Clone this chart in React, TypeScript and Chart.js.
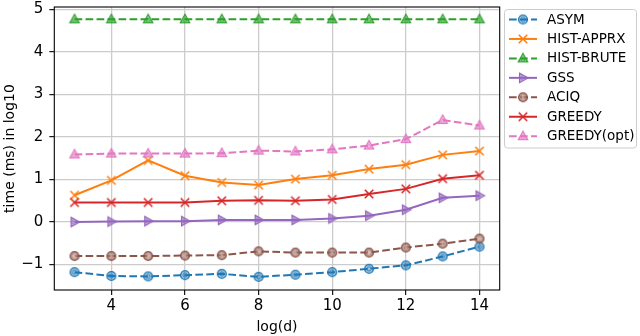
import React, { useEffect, useRef } from 'react';
import { Chart, registerables } from 'chart.js';
Chart.register(...registerables);

const logD = [3, 4, 5, 6, 7, 8, 9, 10, 11, 12, 13, 14];
const asym = [-1.18, -1.27, -1.28, -1.25, -1.22, -1.29, -1.24, -1.18, -1.1, -1.02, -0.81, -0.58];
const histApprx = [0.63, 0.98, 1.45, 1.09, 0.93, 0.87, 1.01, 1.1, 1.245, 1.35, 1.58, 1.67];
const histBrute = [4.77, 4.77, 4.77, 4.77, 4.77, 4.77, 4.77, 4.77, 4.77, 4.77, 4.77, 4.77];
const gss = [0.0, 0.01, 0.02, 0.02, 0.05, 0.05, 0.05, 0.085, 0.15, 0.29, 0.57, 0.62];
const aciq = [-0.8, -0.8, -0.8, -0.79, -0.78, -0.69, -0.72, -0.72, -0.72, -0.6, -0.51, -0.39];
const greedy = [0.46, 0.46, 0.46, 0.46, 0.5, 0.51, 0.5, 0.53, 0.66, 0.78, 1.02, 1.1];
const greedyOpt = [1.59, 1.61, 1.61, 1.61, 1.62, 1.68, 1.66, 1.71, 1.8, 1.95, 2.4, 2.27];

const seriesNames = ['ASYM', 'HIST-APPRX', 'HIST-BRUTE', 'GSS', 'ACIQ', 'GREEDY', 'GREEDY(opt)'];
const seriesValues = [asym, histApprx, histBrute, gss, aciq, greedy, greedyOpt];
const seriesColors = ['#1f77b4', '#ff7f0e', '#2ca02c', '#9467bd', '#8c564b', '#d62728', '#e377c2'];
const seriesMarkers = ['circleRing', 'x', 'triUp', 'triRight', 'circlePlus', 'x', 'triUp'];
const seriesDashed = [true, false, true, false, true, false, true];

const xTicks = [4, 6, 8, 10, 12, 14];
const yTicks = [-1, 0, 1, 2, 3, 4, 5];

const DASH = [7.7, 3.3];
const FONT = 'DejaVu Sans';

function hexA(hex: string, a: number) {
  const n = parseInt(hex.slice(1), 16);
  return `rgba(${(n >> 16) & 255},${(n >> 8) & 255},${n & 255},${a})`;
}

function makeMarker(kind: string, color: string): HTMLCanvasElement {
  const c = document.createElement('canvas');
  c.width = 14;
  c.height = 14;
  const g = c.getContext('2d')!;
  g.translate(7, 7);
  g.strokeStyle = color;
  g.lineJoin = 'miter';
  g.lineWidth = 1.3;
  if (kind === 'x') {
    g.lineWidth = 1.6;
    g.beginPath();
    g.moveTo(-4.2, -4.2);
    g.lineTo(4.2, 4.2);
    g.moveTo(-4.2, 4.2);
    g.lineTo(4.2, -4.2);
    g.stroke();
  } else if (kind === 'circleRing' || kind === 'circlePlus') {
    g.fillStyle = hexA(color, kind === 'circlePlus' ? 0.6 : 0.4);
    g.beginPath();
    g.arc(0, 0, 4.4, 0, Math.PI * 2);
    g.fill();
    g.stroke();
    g.lineWidth = 0.9;
    if (kind === 'circleRing') {
      g.beginPath();
      g.arc(0, 0, 2.1, 0, Math.PI * 2);
      g.stroke();
    } else {
      g.strokeStyle = 'rgba(255,255,255,0.55)';
      g.beginPath();
      g.moveTo(-2.6, 0);
      g.lineTo(2.6, 0);
      g.moveTo(0, -2.6);
      g.lineTo(0, 2.6);
      g.stroke();
    }
  } else {
    if (kind === 'triRight') g.rotate(Math.PI / 2);
    g.fillStyle = hexA(color, 0.35);
    g.beginPath();
    g.moveTo(0, -5);
    g.lineTo(4.6, 3.4);
    g.lineTo(-4.6, 3.4);
    g.closePath();
    g.fill();
    g.stroke();
    g.lineWidth = 0.8;
    g.beginPath();
    g.moveTo(0, -1.6);
    g.lineTo(2.2, 2.0);
    g.lineTo(-2.2, 2.0);
    g.closePath();
    g.stroke();
  }
  return c;
}

const legendPlugin = {
  id: 'mplLegend',
  afterDraw(chart: any) {
    const ctx = chart.ctx as CanvasRenderingContext2D;
    const bx = 504.5, by = 9.5, bw = 132, bh = 138.5, r = 3;
    ctx.save();
    ctx.beginPath();
    ctx.moveTo(bx + r, by);
    ctx.lineTo(bx + bw - r, by);
    ctx.arcTo(bx + bw, by, bx + bw, by + r, r);
    ctx.lineTo(bx + bw, by + bh - r);
    ctx.arcTo(bx + bw, by + bh, bx + bw - r, by + bh, r);
    ctx.lineTo(bx + r, by + bh);
    ctx.arcTo(bx, by + bh, bx, by + bh - r, r);
    ctx.lineTo(bx, by + r);
    ctx.arcTo(bx, by, bx + r, by, r);
    ctx.closePath();
    ctx.fillStyle = 'rgba(255,255,255,0.8)';
    ctx.fill();
    ctx.strokeStyle = '#cccccc';
    ctx.lineWidth = 1;
    ctx.stroke();
    chart.data.datasets.forEach((ds: any, i: number) => {
      const y = 19.5 + i * 19.45;
      ctx.strokeStyle = ds.borderColor;
      ctx.lineWidth = 2;
      ctx.setLineDash(ds.borderDash || []);
      ctx.beginPath();
      ctx.moveTo(509, y);
      ctx.lineTo(537, y);
      ctx.stroke();
      ctx.setLineDash([]);
      const m = ds.pointStyle as HTMLCanvasElement;
      ctx.drawImage(m, 523 - m.width / 2, y - m.height / 2);
      ctx.fillStyle = '#000';
      ctx.font = `13.5px ${FONT}`;
      ctx.textAlign = 'left';
      ctx.textBaseline = 'middle';
      ctx.fillText(ds.label, 547, y + 0.5);
    });
    ctx.restore();
  },
};

const framePlugin = {
  id: 'frame',
  afterDatasetsDraw(chart: any) {
    const { left, top, right, bottom } = chart.chartArea;
    const ctx = chart.ctx as CanvasRenderingContext2D;
    ctx.save();
    ctx.strokeStyle = '#000';
    ctx.lineWidth = 1.1;
    ctx.strokeRect(left, top, right - left, bottom - top);
    ctx.restore();
  },
};

export default function App() {
  const ref = useRef<HTMLCanvasElement>(null);
  useEffect(() => {
    document.body.style.margin = '0';
    const datasets = seriesNames.map((name, i) => ({
      label: name,
      data: logD.map((x, j) => ({ x, y: seriesValues[i][j] })),
      borderColor: seriesColors[i],
      backgroundColor: seriesColors[i],
      borderWidth: 2,
      borderDash: seriesDashed[i] ? DASH : [],
      pointStyle: makeMarker(seriesMarkers[i], seriesColors[i]),
      pointRadius: 5,
      tension: 0,
      fill: false,
      order: seriesNames.length - i,
    }));
    const chart = new Chart(ref.current!, {
      type: 'line',
      data: { datasets },
      plugins: [framePlugin, legendPlugin],
      options: {
        animation: false,
        responsive: false,
        devicePixelRatio: 1,
        layout: { padding: { top: 3, right: 140.3, left: 0, bottom: 0 } },
        plugins: { legend: { display: false }, tooltip: { enabled: false } },
        scales: {
          x: {
            type: 'linear',
            min: 2.45,
            max: 14.55,
            afterBuildTicks: (s: any) => {
              s.ticks = xTicks.map((v) => ({ value: v }));
            },
            afterFit: (s: any) => {
              s.height = 46;
              s.paddingLeft = 0;
              s.paddingRight = 0;
            },
            ticks: {
              font: { family: FONT, size: 15 },
              color: '#000',
              padding: 2,
              maxRotation: 0,
              autoSkip: false,
              callback: (v: any) => String(v),
            },
            grid: { color: '#cccccc', lineWidth: 1.3, tickColor: '#000', tickLength: 5, tickWidth: 1.1 },
            border: { display: false },
            title: { display: true, text: 'log(d)', font: { family: FONT, size: 14 }, color: '#000', padding: { top: 0, bottom: 0 } },
          },
          y: {
            type: 'linear',
            min: -1.6,
            max: 5.06,
            afterBuildTicks: (s: any) => {
              s.ticks = yTicks.map((v) => ({ value: v }));
            },
            afterFit: (s: any) => {
              s.width = 54.3;
              s.paddingTop = 0;
              s.paddingBottom = 0;
            },
            ticks: {
              font: { family: FONT, size: 15 },
              color: '#000',
              padding: 6,
              autoSkip: false,
              callback: (v: any) => (v < 0 ? '\u2212' + Math.abs(v) : String(v)),
            },
            grid: { color: '#cccccc', lineWidth: 1.3, tickColor: '#000', tickLength: 5, tickWidth: 1.1 },
            border: { display: false },
            title: { display: true, text: 'time (ms) in log10', font: { family: FONT, size: 14 }, color: '#000', padding: { top: 1.6, bottom: 0 } },
          },
        },
      } as any,
    });
    return () => chart.destroy();
  }, []);
  return (
    <div style={{ width: 640, height: 336 }}>
      <canvas ref={ref} width={640} height={336} />
    </div>
  );
}
